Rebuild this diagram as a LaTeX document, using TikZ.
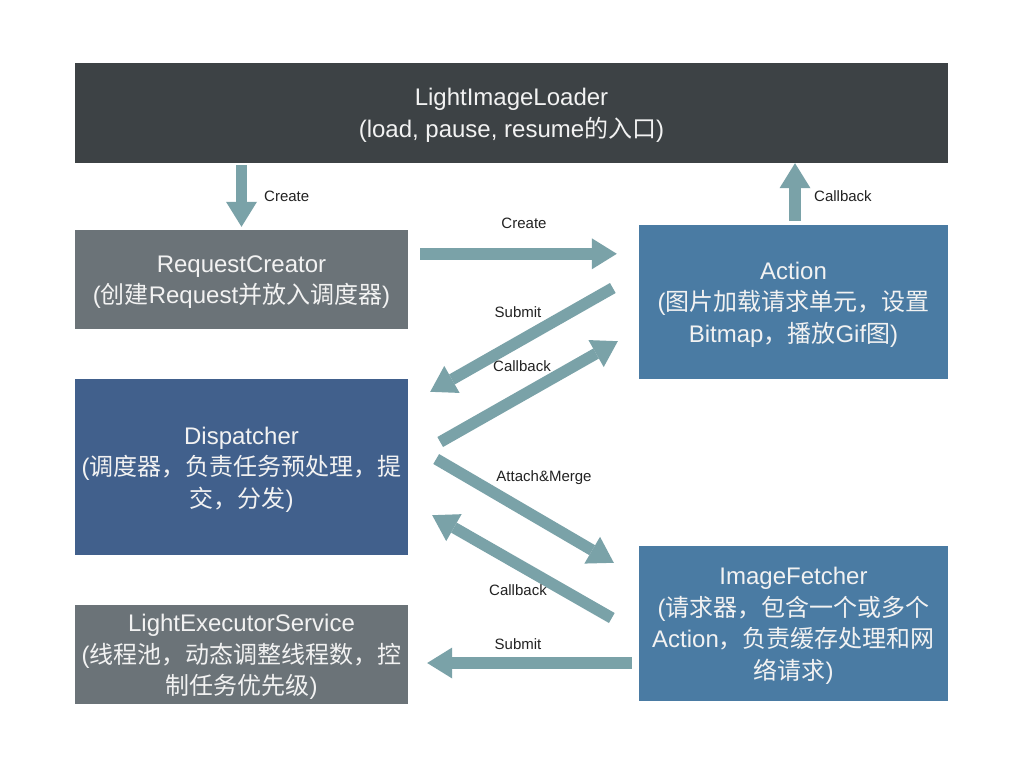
\documentclass[tikz,border=0pt]{standalone}
\usepackage{fontspec}
\setmainfont{Liberation Sans}
\newfontfamily\cjk{Noto Sans CJK SC}
\usetikzlibrary{arrows.meta,calc}
\newcommand{\C}[1]{{\cjk #1}}
\definecolor{cTop}{HTML}{3D4245}
\definecolor{cGray}{HTML}{6B7378}
\definecolor{cBlue}{HTML}{4A7BA3}
\definecolor{cDisp}{HTML}{41608C}
\definecolor{cArrow}{HTML}{7AA2A8}
\definecolor{cLabel}{HTML}{222222}
\definecolor{cText}{HTML}{F2F2F2}
\tikzset{
  box/.style={rectangle, inner sep=0pt},
  boxtext/.style={inner sep=0pt, text=cText, align=center,
    font=\fontsize{24}{31.5}\selectfont},
  bigarrow/.style={draw=cArrow, line width=11.5pt,
    -{Triangle[width=31pt,length=25pt,line width=0pt]}},
  lbl/.style={text=cLabel, font=\fontsize{15}{18}\selectfont, inner sep=0pt}
}
\begin{document}
\begin{tikzpicture}[x=1pt,y=-1pt]
\useasboundingbox[fill=white] (0,0) rectangle (1024,768);

\node[box, fill=cTop, minimum width=873pt, minimum height=100pt] (lil) at (511.5,113) {};
\node[box, fill=cGray, minimum width=333pt, minimum height=99pt] (rc) at (241.5,279.5) {};
\node[box, fill=cBlue, minimum width=309pt, minimum height=154pt] (act) at (793.5,302) {};
\node[box, fill=cDisp, minimum width=333pt, minimum height=176pt] (disp) at (241.5,467) {};
\node[box, fill=cGray, minimum width=333pt, minimum height=99pt] (les) at (241.5,654.5) {};
\node[box, fill=cBlue, minimum width=309pt, minimum height=155pt] (imf) at (793.5,623.5) {};

\node[boxtext] (lilT) at ($(lil.center)+(0,2.5)$)
  {LightImageLoader\\(load, pause, resume\C{的入口})};
\node[boxtext] (rcT) at ($(rc.center)+(0,2.5)$)
  {RequestCreator\\(\C{创建}Request\C{并放入调度器})};
\node[boxtext] (actT) at ($(act.center)+(0,2.5)$)
  {Action\\(\C{图片加载请求单元，设置}\\Bitmap\C{，播放}Gif\C{图})};
\node[boxtext] (dispT) at ($(disp.center)+(0,2.5)$)
  {Dispatcher\\(\C{调度器，负责任务预处理，提}\\\C{交，分发})};
\node[boxtext] (lesT) at ($(les.center)+(0,2.5)$)
  {LightExecutorService\\(\C{线程池，动态调整线程数，控}\\\C{制任务优先级})};
\node[boxtext] (imfT) at ($(imf.center)+(0,2.5)$)
  {ImageFetcher\\(\C{请求器，包含一个或多个}\\Action\C{，负责缓存处理和网}\\\C{络请求})};

% Create (down)
\draw[bigarrow] ($(rc.north |- lil.south)+(0,2)$) -- ($(rc.north)+(0,-3)$);
% Callback (up)
\draw[bigarrow] ($(act.north)+(1.5,-4)$) -- ($(act.north |- lil.south)+(1.5,0)$);
% Create (right)
\draw[bigarrow] ($(rc.north east)+(12,24)$) -- ($(act.north west)+(-22,29)$);
% Submit (Action -> Dispatcher)
\draw[bigarrow] ($(act.west)+(-26,-14)$) -- ($(disp.north east)+(22,13)$);
% Callback (Dispatcher -> Action)
\draw[bigarrow] ($(disp.east)+(32,-25)$) -- ($(act.south west)+(-21,-38)$);
% Attach&Merge
\draw[bigarrow] ($(disp.east)+(28,-8)$) -- ($(imf.north west)+(-25,17)$);
% Callback (ImageFetcher -> Dispatcher)
\draw[bigarrow] ($(imf.west)+(-27,-5.5)$) -- ($(disp.south east)+(24,-40)$);
% Submit (left)
\draw[bigarrow] ($(imf.west)+(-7,39.5)$) -- ($(les.east)+(19,8.5)$);

\node[lbl, anchor=west] (l1) at (264,196) {Create};
\node[lbl, anchor=west] (l2) at (814,196) {Callback};
\node[lbl] (l3) at (524,223) {Create};
\node[lbl] (l4) at (518,312) {Submit};
\node[lbl] (l5) at (522,366) {Callback};
\node[lbl] (l6) at (544,478) {Attach\&Merge};
\node[lbl] (l7) at (518,590) {Callback};
\node[lbl] (l8) at (518,644) {Submit};
\end{tikzpicture}
\end{document}
